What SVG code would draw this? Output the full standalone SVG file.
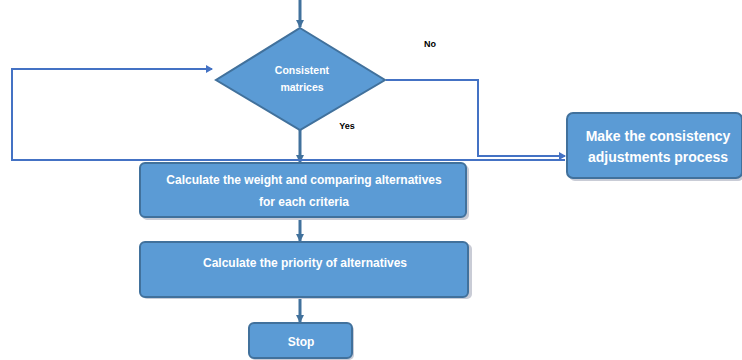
<svg xmlns="http://www.w3.org/2000/svg" width="742" height="360" viewBox="0 0 742 360">
<style>
.box{fill:#5b9bd5;stroke:#41719c;stroke-width:2}
.shadow{fill:#c9ccd6}
.t{fill:#ffffff;font-family:"Liberation Sans",Arial,sans-serif;font-weight:bold;text-anchor:middle}
.lbl{fill:#000000;font-family:"Liberation Sans",Arial,sans-serif;font-weight:bold;font-size:9px;text-anchor:middle}
.c{fill:none;stroke:#4472c4;stroke-width:2}
.v{fill:none;stroke:#41719c;stroke-width:3}
</style>
<defs>
<marker id="ah" markerWidth="8" markerHeight="8" refX="6" refY="4" orient="auto" markerUnits="userSpaceOnUse">
<path d="M0,0 L7,4 L0,8 z" fill="#4472c4"/>
</marker>
<marker id="av" markerWidth="10" markerHeight="8" refX="7" refY="4" orient="auto" markerUnits="userSpaceOnUse">
<path d="M0,0 L8,4 L0,8 z" fill="#41719c"/>
</marker>
</defs>
<rect width="742" height="360" fill="#ffffff"/>
<g id="connectors">
<line class="v" x1="300" y1="0" x2="300" y2="27" marker-end="url(#av)"/>
<line class="v" x1="300" y1="130" x2="300" y2="162" marker-end="url(#av)"/>
<line class="v" x1="300" y1="218" x2="300" y2="241" marker-end="url(#av)"/>
<line class="v" x1="300" y1="298" x2="300" y2="322" marker-end="url(#av)"/>
<polyline class="c" points="386,80 478,80 478,156 565,156" stroke="#8fa8dc" marker-end="url(#ah)"/>
<polyline class="c" points="565,160 12,160 12,69 212,69" marker-end="url(#ah)"/>
<text class="lbl" x="430" y="47">No</text>
<text class="lbl" x="347" y="129">Yes</text>
</g>
<g id="decision">
<polygon class="box" points="300,28 385,80 300,130 216,80"/>
<text class="t" font-size="10.5" x="302" y="74">Consistent</text>
<text class="t" font-size="10.5" x="302" y="91">matrices</text>
</g>
<g id="weights">
<rect class="shadow" x="142" y="165" width="327" height="55" rx="5"/>
<rect class="box" x="140" y="163" width="326" height="54" rx="5"/>
<text class="t" font-size="12" x="304" y="184">Calculate the weight and comparing alternatives</text>
<text class="t" font-size="12" x="304" y="206">for each criteria</text>
</g>
<g id="priority">
<rect class="shadow" x="142" y="244" width="330" height="55" rx="5"/>
<rect class="box" x="140" y="242" width="328" height="55" rx="5"/>
<text class="t" font-size="12" x="305" y="267">Calculate the priority of alternatives</text>
</g>
<g id="stop">
<rect class="shadow" x="250" y="325" width="104" height="35" rx="5"/>
<rect class="box" x="249" y="323" width="103" height="35" rx="5"/>
<text class="t" font-size="12" x="301" y="346">Stop</text>
</g>
<g id="adjust">
<rect class="shadow" x="569" y="115" width="175" height="66" rx="6"/>
<rect class="box" x="567" y="113" width="175" height="65" rx="6"/>
<text class="t" font-size="14" x="658" y="141">Make the consistency</text>
<text class="t" font-size="14" x="658" y="162">adjustments process</text>
</g>
</svg>
